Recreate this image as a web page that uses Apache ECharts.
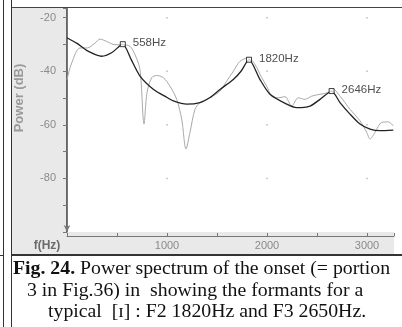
<!DOCTYPE html>
<html>
<head>
<meta charset="utf-8">
<script src="https://cdn.jsdelivr.net/npm/echarts@6/dist/echarts.min.js"></script>
<style>
html,body{margin:0;padding:0;background:#fff;}
#chart{width:402px;height:327px;}
</style>
</head>
<body>
<div id="chart"></div>
<script>
// LPC envelope (dark curve): frequency (Hz) and power (dB)
var envFreq = [0, 100, 200, 347, 450, 558, 640, 730, 866, 1000, 1063, 1197, 1330, 1430, 1530, 1663, 1740, 1820, 1930, 2030, 2197, 2297, 2430, 2530, 2646, 2730, 2830, 2930, 3030, 3130, 3263];
var envDb   = [-27.5, -29.6, -32.3, -34.4, -33.0, -29.9, -35.5, -41.8, -46.8, -49.8, -51.1, -52.3, -51.7, -49.8, -46.8, -43.1, -40.0, -35.7, -43.1, -48.6, -52.3, -53.6, -53.0, -50.5, -47.4, -51.7, -56.0, -59.7, -61.6, -62.2, -62.0];

// FFT spectrum (light curve)
var rawFreq = [0, 47, 130, 203, 280, 330, 397, 480, 563, 630, 680, 730, 770, 800, 847, 897, 963, 1030, 1097, 1147, 1190, 1230, 1280, 1330, 1430, 1530, 1597, 1663, 1730, 1813, 1880, 1947, 1997, 2047, 2113, 2180, 2247, 2313, 2380, 2447, 2530, 2613, 2663, 2730, 2830, 2930, 2997, 3030, 3080, 3147, 3213, 3263];
var rawDb   = [-43.1, -36.9, -31.3, -31.3, -29.5, -28.0, -28.9, -30.1, -30.1, -30.7, -33.8, -39.4, -59.7, -48.0, -42.4, -41.6, -42.4, -45.6, -50.5, -57.9, -69.0, -62.8, -54.2, -51.7, -49.9, -47.4, -43.7, -40.0, -36.3, -35.0, -37.5, -42.4, -45.6, -49.3, -49.9, -49.5, -53.0, -49.9, -50.5, -49.3, -48.6, -48.0, -46.8, -49.3, -54.2, -58.5, -62.8, -65.3, -62.8, -59.1, -58.9, -60.4];

// Formant peaks picked on the envelope
var peakFreq = [558, 1820, 2646];
var peakDb   = [-29.9, -35.7, -47.4];

// Axis ticks
var xTicks = [1000, 2000, 3000];
var yTicks = [-20, -40, -60, -80];

// Caption
var captionBold = 'Fig. 24.';
var captionLines = [
  ' Power spectrum of the onset (= portion',
  '3 in Fig.36) in  showing the formants for a',
  'typical  [\u026A] : F2 1820Hz and F3 2650Hz.'
];

function pairs(xs, ys) { return xs.map(function (x, i) { return [x, ys[i]]; }); }
var gridDots = [];
xTicks.forEach(function (fx) { yTicks.forEach(function (fy) { gridDots.push([fx, fy]); }); });

var chart = echarts.init(document.getElementById('chart'), null, { renderer: 'canvas' });
var sans = 'Liberation Sans, Arial, sans-serif';
var serif = 'Liberation Serif, Times New Roman, serif';
var capSize = '19.8px ';

chart.setOption({
  animation: false,
  backgroundColor: '#ffffff',
  grid: { left: 67, right: 8, top: 8, bottom: 95, show: false },
  xAxis: {
    type: 'value', min: 0, max: 3270, interval: 500, offset: 4,
    axisLine: { show: true, lineStyle: { color: '#777', width: 1 } },
    axisTick: { show: true, inside: true, length: 3, lineStyle: { color: '#777' } },
    axisLabel: {
      margin: 4, color: '#8a8a8a', fontFamily: sans, fontSize: 11,
      formatter: function (v) { return xTicks.indexOf(v) >= 0 ? String(v) : ''; }
    },
    splitLine: { show: false }
  },
  yAxis: {
    type: 'value', min: -100, max: -16.4, interval: 10, offset: 6,
    axisLine: { show: true, symbol: ['arrow', 'none'], symbolSize: [5, 7], lineStyle: { color: '#777', width: 1 } },
    axisTick: { show: true, length: 4, lineStyle: { color: '#777' } },
    axisLabel: {
      margin: 5, color: '#8a8a8a', fontFamily: sans, fontSize: 11,
      formatter: function (v) { return yTicks.indexOf(v) >= 0 ? String(v) : ''; }
    },
    splitLine: { show: false }
  },
  graphic: [
    // panel backgrounds
    { type: 'rect', z: -10, shape: { x: 12, y: 8, width: 390, height: 246 }, style: { fill: '#e9e9e9' } },
    { type: 'rect', z: -9, shape: { x: 66, y: 8, width: 336, height: 224 }, style: { fill: '#ffffff' } },
    { type: 'rect', z: -9, shape: { x: 394, y: 232, width: 8, height: 22 }, style: { fill: '#ffffff' } },
    // plot frame left edge
    { type: 'line', z: -8, shape: { x1: 66.5, y1: 8, x2: 66.5, y2: 232 }, style: { stroke: '#666', lineWidth: 1 } },
    // table rules
    { type: 'line', z: 5, shape: { x1: 11, y1: 7.5, x2: 402, y2: 7.5 }, style: { stroke: '#444', lineWidth: 1 } },
    { type: 'line', z: 5, shape: { x1: 3.5, y1: 0, x2: 3.5, y2: 327 }, style: { stroke: '#333', lineWidth: 1 } },
    { type: 'line', z: 5, shape: { x1: 11.5, y1: 0, x2: 11.5, y2: 327 }, style: { stroke: '#333', lineWidth: 1 } },
    { type: 'line', z: 5, shape: { x1: 11, y1: 255, x2: 402, y2: 255 }, style: { stroke: '#333', lineWidth: 2 } },
    { type: 'line', z: 5, shape: { x1: 0, y1: 255.5, x2: 3, y2: 255.5 }, style: { stroke: '#333', lineWidth: 1 } },
    // axis titles
    { type: 'text', z: 5, x: 19, y: 98, rotation: Math.PI / 2,
      style: { text: 'Power (dB)', fill: '#9a9a9a', font: 'bold 13px ' + sans, align: 'center', verticalAlign: 'middle' } },
    { type: 'text', z: 5, x: 47, y: 246,
      style: { text: 'f(Hz)', fill: '#6a6a6a', font: 'bold 12px ' + sans, align: 'center', verticalAlign: 'middle' } },
    // caption
    { type: 'text', z: 5, x: 13, y: 268.5,
      style: {
        text: '{b|' + captionBold + '}{r|' + captionLines[0] + '}',
        verticalAlign: 'middle',
        rich: {
          b: { font: 'bold ' + capSize + serif, fill: '#111' },
          r: { font: capSize + serif, fill: '#111' }
        }
      } },
    { type: 'text', z: 5, x: 27, y: 290.5, style: { text: captionLines[1], font: capSize + serif, fill: '#111', verticalAlign: 'middle' } },
    { type: 'text', z: 5, x: 48, y: 311.5, style: { text: captionLines[2], font: capSize + serif, fill: '#111', verticalAlign: 'middle' } }
  ],
  series: [
    {
      name: 'grid', type: 'scatter', data: gridDots, symbol: 'rect', symbolSize: 1.5,
      itemStyle: { color: '#aaa' }, silent: true, z: 1
    },
    {
      name: 'spectrum', type: 'line', data: pairs(rawFreq, rawDb), showSymbol: false, smooth: 0.3,
      lineStyle: { color: '#a9a9a9', width: 1 }, z: 2
    },
    {
      name: 'envelope', type: 'line', data: pairs(envFreq, envDb), showSymbol: false, smooth: 0.25,
      lineStyle: { color: '#222', width: 1.3 }, z: 3
    },
    {
      name: 'peaks', type: 'scatter', data: pairs(peakFreq, peakDb), symbol: 'rect', symbolSize: 5,
      itemStyle: { color: '#fff', borderColor: '#111', borderWidth: 1 }, z: 4,
      label: {
        show: true, position: 'right', distance: 7, offset: [0, -1],
        fontFamily: sans, fontSize: 11.5, color: '#222',
        formatter: function (p) { return p.value[0] + 'Hz'; }
      }
    }
  ]
});
</script>
</body>
</html>
